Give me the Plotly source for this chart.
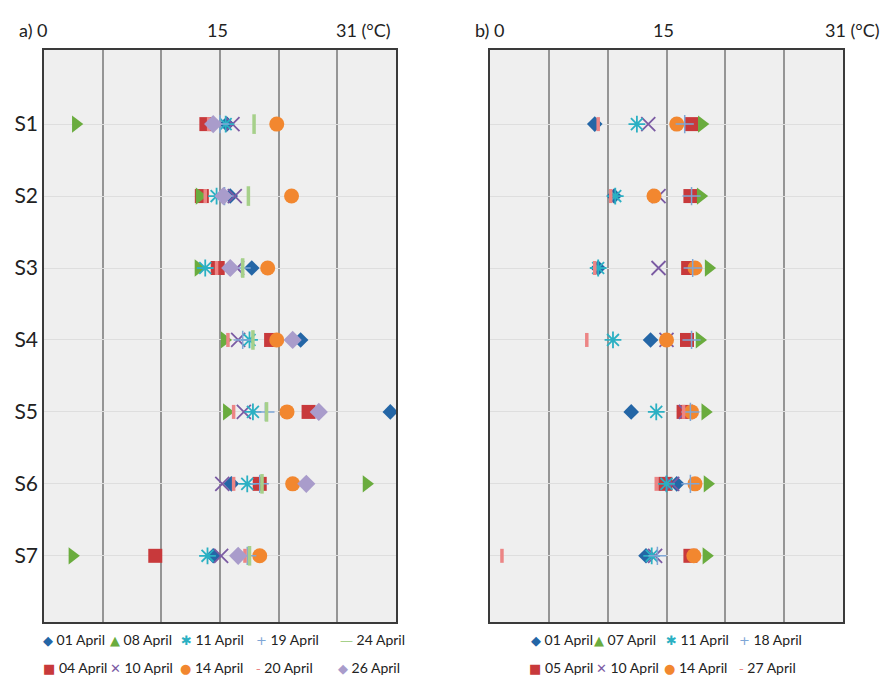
import plotly.graph_objects as go

FONT = "Lato"
stations = ["S1", "S2", "S3", "S4", "S5", "S6", "S7"]

# ---- Panel a (temperature, °C) ----
a_dates = ["01 April", "04 April", "08 April", "10 April", "11 April",
           "14 April", "19 April", "20 April", "24 April", "26 April"]
a_01 = [16.1, 16.4, 18.3, 22.6, 30.5, 16.5, 14.9]
a_04 = [14.3, 13.9, 15.3, 20.0, 23.3, 19.0, 9.8]
a_08 = [2.8, 13.7, 13.6, 15.9, 16.1, 28.4, 2.5]
a_10 = [16.6, 16.8, 17.0, 17.1, 17.6, 15.7, 15.6]
a_11 = [16.0, 15.2, 14.2, 18.1, 18.4, 17.9, 14.4]
a_14 = [20.5, 21.8, 19.7, 20.5, 21.4, 21.9, 19.0]
a_19 = [15.5, 15.9, 17.4, 17.5, 19.5, 19.0, 17.9]
a_20 = [14.5, 14.2, 15.2, 16.2, 16.7, 16.7, 17.7]
a_24 = [18.5, 18.0, 17.5, 18.4, 19.6, 19.2, 18.1]
a_26 = [14.9, 15.8, 16.4, 21.9, 24.2, 23.1, 17.1]
a_vals = [a_01, a_04, a_08, a_10, a_11, a_14, a_19, a_20, a_24, a_26]
a_legend_rows = [["01 April", "08 April", "11 April", "19 April", "24 April"],
                 ["04 April", "10 April", "14 April", "20 April", "26 April"]]

# ---- Panel b ----
b_dates = ["01 April", "05 April", "07 April", "10 April", "11 April",
           "14 April", "18 April", "27 April"]
b_01 = [9.2, 10.9, 9.5, 14.1, 12.4, 16.4, 13.7]
b_05 = [17.7, 17.6, 17.4, 17.3, 17.0, 15.4, 17.6]
b_07 = [18.6, 18.5, 19.2, 18.4, 18.9, 19.1, 19.0]
b_10 = [13.9, 14.8, 14.8, 15.5, 17.2, 16.0, 14.5]
b_11 = [12.9, 11.0, 9.5, 10.8, 14.6, 15.5, 14.2]
b_14 = [16.4, 14.4, 18.0, 15.5, 17.7, 18.0, 17.9]
b_18 = [17.1, 17.7, 17.8, 17.7, 17.6, 17.6, 14.7]
b_27 = [9.5, 10.6, 9.2, 8.5, 17.0, 14.6, 1.05]
b_vals = [b_01, b_05, b_07, b_10, b_11, b_14, b_18, b_27]
b_legend_rows = [["01 April", "07 April", "11 April", "18 April"],
                 ["05 April", "10 April", "14 April", "27 April"]]

STYLE = {
    "01 April": dict(symbol="diamond", color="#2466a6", size=12, lw=0, glyph="◆"),
    "04 April": dict(symbol="square", color="#c8393b", size=14, lw=0, glyph="■"),
    "05 April": dict(symbol="square", color="#c8393b", size=14, lw=0, glyph="■"),
    "07 April": dict(symbol="triangle-right", color="#6aac3e", size=15, lw=0, glyph="▲"),
    "08 April": dict(symbol="triangle-right", color="#6aac3e", size=15, lw=0, glyph="▲"),
    "10 April": dict(symbol="x-thin-open", color="#7b5ba3", size=14, lw=1.8, glyph="✕"),
    "11 April": dict(symbol="asterisk-open", color="#2bb0c3", size=14, lw=1.8, glyph="✱"),
    "14 April": dict(symbol="circle", color="#f2872f", size=15, lw=0, glyph="●"),
    "18 April": dict(symbol="cross-thin-open", color="#7ea6d6", size=13, lw=1.5, glyph="+"),
    "19 April": dict(symbol="cross-thin-open", color="#7ea6d6", size=13, lw=1.5, glyph="+"),
    "20 April": dict(symbol="line-ns-open", color="#ec8585", size=10, lw=3.5, glyph="-"),
    "27 April": dict(symbol="line-ns-open", color="#ec8585", size=10, lw=3.5, glyph="-"),
    "24 April": dict(symbol="line-ns-open", color="#a6d08a", size=14, lw=3.5, glyph="—"),
    "26 April": dict(symbol="diamond", color="#a99ccb", size=14, lw=0, glyph="◆"),
}

# per-entry legend widths (spacing between legend entries)
a_legend_widths = [[22, 26, 30, 39, 70], [22, 25, 31, 37, 70]]
b_legend_widths = [[18, 27, 28, 70], [22, 23, 30, 70]]


def marker(d):
    s = STYLE[d]
    return dict(symbol=s["symbol"], color=s["color"], size=s["size"],
                line=dict(color=s["color"], width=s["lw"]))


def legend_name(d):
    s = STYLE[d]
    return (f"<span style='color:{s['color']};font-family:DejaVu Sans;font-size:13px'>"
            f"{s['glyph']}</span> {d}")


fig = go.Figure()


def add_panel(dates, vals, rows, widths, xa, ya, legs):
    for d, v in zip(dates, vals):
        fig.add_trace(go.Scatter(x=v, y=stations, mode="markers", xaxis=xa, yaxis=ya,
                                 marker=marker(d), showlegend=False, hoverinfo="x+name",
                                 name=d))
    for leg, row, wrow in zip(legs, rows, widths):
        for d, lw in zip(row, wrow):
            fig.add_trace(go.Scatter(x=[None], y=[None], mode="markers", xaxis=xa, yaxis=ya,
                                     marker=dict(color="rgba(0,0,0,0)", size=1),
                                     name=legend_name(d), legend=leg, legendwidth=lw,
                                     showlegend=True))


add_panel(a_dates, a_vals, a_legend_rows, a_legend_widths, "x", "y", ["legend", "legend2"])
add_panel(b_dates, b_vals, b_legend_rows, b_legend_widths, "x2", "y2", ["legend3", "legend4"])

# figure is slightly taller than the 678px window so the bottom legend row fits
W, H = 884, 684


def px(x):
    return x / W


def py(y):
    return 1 - y / H


ax_common = dict(range=[0, 31], tick0=0, dtick=31 / 6, showticklabels=False, ticks="",
                 showgrid=True, gridcolor="#959595", gridwidth=1.5, zeroline=False,
                 showline=True, mirror=True, linecolor="#3a3a3a", linewidth=1.5)
ay_common = dict(range=[6.92, -1.03], showgrid=True, gridcolor="#dedede", gridwidth=1,
                 zeroline=False, showline=True, mirror=True, linecolor="#3a3a3a",
                 linewidth=1.5, ticks="")

fig.update_layout(
    width=W, height=H,
    margin=dict(l=0, r=0, t=0, b=0),
    paper_bgcolor="white", plot_bgcolor="#efefef",
    font=dict(family=FONT, color="#222"),
    xaxis=dict(domain=[px(44), px(396)], anchor="y", **ax_common),
    yaxis=dict(domain=[py(622), py(50)], anchor="x", tickfont=dict(size=21, color="#222"),
               **ay_common),
    xaxis2=dict(domain=[px(490), px(843)], anchor="y2", **ax_common),
    yaxis2=dict(domain=[py(622), py(50)], anchor="x2", showticklabels=False, **ay_common),
)

leg_common = dict(orientation="h", xanchor="left", yanchor="bottom", bgcolor="rgba(0,0,0,0)",
                  font=dict(size=14, family=FONT, color="#222"), itemwidth=30,
                  entrywidth=30, tracegroupgap=0, itemclick=False, itemdoubleclick=False)
fig.update_layout(
    legend=dict(x=px(3), y=py(656), **leg_common),
    legend2=dict(x=px(3), y=0, **leg_common),
    legend3=dict(x=px(491), y=py(656), **leg_common),
    legend4=dict(x=px(489), y=0, **leg_common),
)

ann = [
    ("a) 0", 50, "right"), ("15", 217, "center"), ("31 (°C)", 393, "right"),
    ("b) 0", 506, "right"), ("15", 663, "center"), ("31 (°C)", 882, "right"),
]
for t, x, anc in ann:
    fig.add_annotation(text=t, x=px(x), y=py(30), xref="paper", yref="paper",
                       xanchor=anc, yanchor="middle", showarrow=False,
                       font=dict(size=18, family=FONT, color="#222"))

fig.write_html("out.html", config={"displayModeBar": False},
               post_script="document.body.style.margin='0';document.body.style.overflow='hidden';")
